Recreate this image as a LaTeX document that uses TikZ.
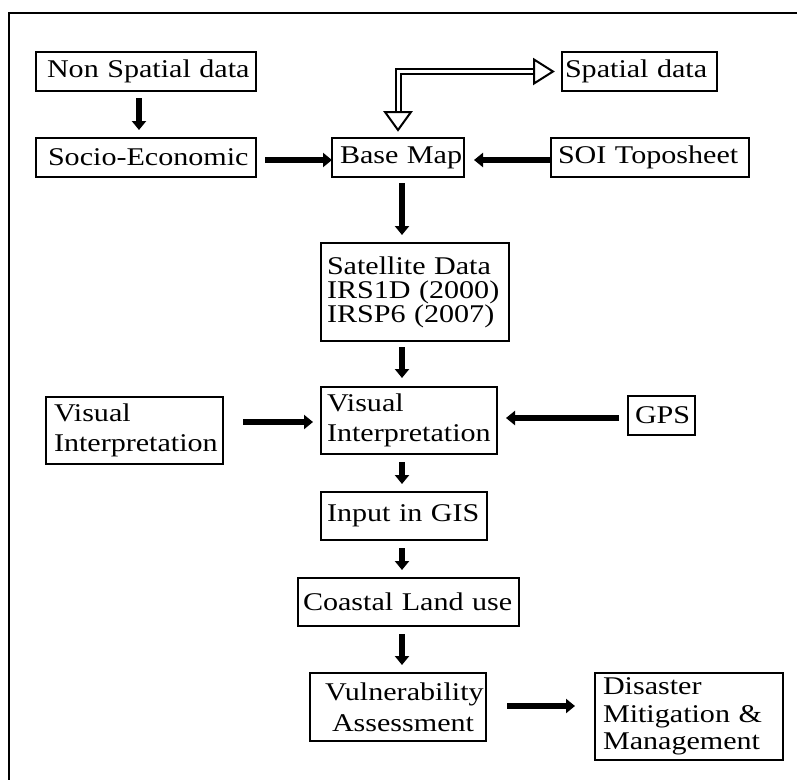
\documentclass[tikz,border=0pt]{standalone}
\usepackage{fontspec}
\setmainfont{Liberation Serif}[FakeStretch=1.18]
\usetikzlibrary{arrows.meta,calc}
\begin{document}
\begin{tikzpicture}[x=1pt,y=-1pt,
  box/.style={draw, line width=1.6pt, align=left, inner ysep=0pt, outer sep=0pt},
  arr/.style={line width=6pt, -{Triangle[length=9pt,width=14pt]}},
  dblout/.style={line width=7pt},
  dblin/.style={line width=3pt, white},
  openhead/.style={draw, line width=2pt, fill=white, line join=miter},
  frameline/.style={line width=2pt},
  font=\fontsize{25.5}{29}\selectfont]
\useasboundingbox (0,0) rectangle (797,780);
\draw[frameline] (797,13) -- (9,13) -- (9,780);

\node[box, text width=198pt, inner xsep=11pt, minimum height=39pt] (ns) at (146,71.5) {\mbox{Non Spatial data}};
\node[box, text width=196pt, inner xsep=12pt, minimum height=39pt] (se) at (146,157.5) {\mbox{Socio-Economic}};
\node[box, text width=116pt, inner xsep=8pt, minimum height=39pt] (bm) at (398,157.5) {\mbox{Base Map}};
\node[box, text width=184pt, inner xsep=7pt, minimum height=39pt] (soi) at (650,157.5) {\mbox{SOI Toposheet}};
\node[box, text width=149pt, inner xsep=3pt, minimum height=39pt] (sp) at (639.5,71.5) {\mbox{Spatial data}};
\node[box, text width=176pt, inner xsep=6pt, minimum height=98pt, font=\fontsize{25.5}{24}\selectfont] (sat) at (415,292) {\mbox{Satellite Data}\\\mbox{IRS1D (2000)}\\\mbox{IRSP6 (2007)}};
\node[box, text width=164pt, inner xsep=6pt, minimum height=67pt, font=\fontsize{25.5}{30}\selectfont] (vc) at (409,420.5) {\mbox{Visual}\\\mbox{Interpretation}};
\node[box, text width=161pt, inner xsep=8pt, minimum height=67pt, font=\fontsize{25.5}{30}\selectfont] (vl) at (134.5,430.5) {\mbox{Visual}\\\mbox{Interpretation}};
\node[box, text width=53pt, inner xsep=7pt, minimum height=39pt] (gps) at (661.5,415.5) {\mbox{GPS}};
\node[box, text width=154pt, inner xsep=6pt, minimum height=48pt] (gis) at (404,516) {\mbox{Input in GIS}};
\node[box, text width=211pt, inner xsep=5pt, minimum height=48pt] (cl) at (408.5,602) {\mbox{Coastal Land use}};
\node[box, text width=146pt, inner xsep=15pt, minimum height=68pt, font=\fontsize{25.5}{31}\selectfont] (vu) at (398,707) {\mbox{Vulnerability}\\\mbox{\hspace*{7pt}Assessment}};
\node[box, text width=172pt, inner xsep=8pt, minimum height=87pt, font=\fontsize{25.5}{27.5}\selectfont] (dm) at (689,716.5) {\mbox{Disaster}\\\mbox{Mitigation \&}\\\mbox{Management}};

% double-lined two-headed connector Base Map <-> Spatial data
\draw[dblout] ($(sp.west)+(-28,0)$) -| ($(bm.north)+(0,-26)$);
\draw[dblin] ($(sp.west)+(-29,0)$) -| ($(bm.north)+(0,-27)$);
\draw[openhead] ($(bm.north)+(0,-8)$) -- ++(-13,-18) -- ++(26,0) -- cycle;
\draw[openhead] ($(sp.west)+(-9,0)$) -- ++(-19,-12) -- ++(0,24) -- cycle;

\draw[arr] ($(ns.south)+(-7,7)$) -- ($(se.north)+(-7,-8)$);
\draw[arr] ($(se.east)+(9,2.5)$) -- ($(bm.west)+(0,2.5)$);
\draw[arr] ($(soi.west)+(0,2.5)$) -- ($(bm.east)+(10,2.5)$);
\draw[arr] ($(bm.south)+(4,6)$) -- ($(sat.north)+(-13,-8)$);
\draw[arr] ($(sat.south)+(-13,6)$) -- ($(vc.north)+(-7,-9)$);
\draw[arr] ($(vl.east)+(20,-8.5)$) -- ($(vc.west)+(-8,1.5)$);
\draw[arr] ($(gps.west)+(-9,2.5)$) -- ($(vc.east)+(9,-2.5)$);
\draw[arr] ($(vc.south)+(-7,8)$) -- ($(gis.north)+(-2,-8)$);
\draw[arr] ($(gis.south)+(-2,8)$) -- ($(cl.north)+(-6.5,-8)$);
\draw[arr] ($(cl.south)+(-6.5,8)$) -- ($(vu.north)+(4,-8)$);
\draw[arr] ($(vu.east)+(21,-1)$) -- ($(dm.west)+(-20,-10.5)$);
\end{tikzpicture}
\end{document}
